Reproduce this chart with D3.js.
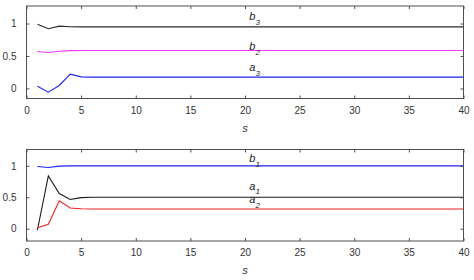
<!DOCTYPE html>
<html><head><meta charset="utf-8">
<script src="https://cdn.jsdelivr.net/npm/d3@7"></script>
<style>body{margin:0;background:#fff}svg{display:block}</style>
</head><body>
<script>
const s = d3.range(1, 41);
// top panel
const b3 = [0.99,0.92,0.96,0.95,0.948,0.948,0.948,0.948,0.948,0.948,0.948,0.948,0.948,0.948,0.948,0.948,0.948,0.948,0.948,0.948,0.948,0.948,0.948,0.948,0.948,0.948,0.948,0.948,0.948,0.948,0.948,0.948,0.948,0.948,0.948,0.948,0.948,0.948,0.948,0.948];
const b2 = [0.569,0.554,0.574,0.582,0.585,0.585,0.585,0.585,0.585,0.585,0.585,0.585,0.585,0.585,0.585,0.585,0.585,0.585,0.585,0.585,0.585,0.585,0.585,0.585,0.585,0.585,0.585,0.585,0.585,0.585,0.585,0.585,0.585,0.585,0.585,0.585,0.585,0.585,0.585,0.585];
const a3 = [0.035,-0.057,0.046,0.22,0.178,0.175,0.175,0.175,0.175,0.175,0.175,0.175,0.175,0.175,0.175,0.175,0.175,0.175,0.175,0.175,0.175,0.175,0.175,0.175,0.175,0.175,0.175,0.175,0.175,0.175,0.175,0.175,0.175,0.175,0.175,0.175,0.175,0.175,0.175,0.175];
// bottom panel
const b1 = [0.99,0.975,0.995,1.0,1.0,1.0,1.0,1.0,1.0,1.0,1.0,1.0,1.0,1.0,1.0,1.0,1.0,1.0,1.0,1.0,1.0,1.0,1.0,1.0,1.0,1.0,1.0,1.0,1.0,1.0,1.0,1.0,1.0,1.0,1.0,1.0,1.0,1.0,1.0,1.0];
const a1 = [-0.02,0.84,0.56,0.466,0.495,0.5,0.5,0.5,0.5,0.5,0.5,0.5,0.5,0.5,0.5,0.5,0.5,0.5,0.5,0.5,0.5,0.5,0.5,0.5,0.5,0.5,0.5,0.5,0.5,0.5,0.5,0.5,0.5,0.5,0.5,0.5,0.5,0.5,0.5,0.5];
const a2 = [0.016,0.07,0.445,0.33,0.317,0.315,0.315,0.315,0.315,0.315,0.315,0.315,0.315,0.315,0.315,0.315,0.315,0.315,0.315,0.315,0.315,0.315,0.315,0.315,0.315,0.315,0.315,0.315,0.315,0.315,0.315,0.315,0.315,0.315,0.315,0.315,0.315,0.315,0.315,0.315];

const xTicks = [0,5,10,15,20,25,30,35,40];
const yTicks = [0,0.5,1];
const yTickLabels = ["0","0.5","1"];

const topSeries = [
  {name:"b", sub:"3", values:b3, color:"#2b2b2b", labelY:1.05},
  {name:"b", sub:"2", values:b2, color:"#ff33ff", labelY:0.59},
  {name:"a", sub:"3", values:a3, color:"#2222ee", labelY:0.266}
];
const bottomSeries = [
  {name:"b", sub:"1", values:b1, color:"#2222ee", labelY:1.06},
  {name:"a", sub:"1", values:a1, color:"#1a1a1a", labelY:0.622},
  {name:"a", sub:"2", values:a2, color:"#ee2222", labelY:0.403}
];
const labelX = 20.4;

const W = 474, H = 280;
const svg = d3.select("body").append("svg").attr("width", W).attr("height", H)
  .style("font-family", "'Liberation Sans', Arial, sans-serif");

function panel(top, bottom, yDomain, series) {
  const left = 26.5, right = 463.5;
  const x = d3.scaleLinear().domain([0, 40]).range([left, right]);
  const y = d3.scaleLinear().domain(yDomain).range([bottom, top]);
  const g = svg.append("g");
  const axisColor = "#505050";
  const line = d3.line().x((d, i) => x(s[i])).y(d => y(d));
  series.forEach(se => {
    g.append("path").attr("d", line(se.values)).attr("fill", "none")
      .attr("stroke", se.color).attr("stroke-width", 1.1);
  });
  g.append("rect").attr("x", left).attr("y", top).attr("width", right - left).attr("height", bottom - top)
    .attr("fill", "none").attr("stroke", axisColor).attr("stroke-width", 1);
  const xb = d3.axisBottom(x).tickValues(xTicks).tickSize(-3).tickPadding(8).tickFormat(d3.format("d"));
  const gx = g.append("g").attr("transform", `translate(0,${bottom})`).call(xb);
  const xt = d3.axisTop(x).tickValues(xTicks).tickSize(-3).tickFormat("");
  const gxt = g.append("g").attr("transform", `translate(0,${top})`).call(xt);
  const yl = d3.axisLeft(y).tickValues(yTicks).tickSize(-3).tickPadding(10).tickFormat((d, i) => yTickLabels[i]);
  const gy = g.append("g").attr("transform", `translate(${left},0)`).call(yl);
  const yr = d3.axisRight(y).tickValues(yTicks).tickSize(-3).tickFormat("");
  const gyr = g.append("g").attr("transform", `translate(${right},0)`).call(yr);
  [gx, gxt, gy, gyr].forEach(a => {
    a.select(".domain").remove();
    a.selectAll(".tick line").attr("stroke", axisColor);
    a.selectAll("text").attr("fill", "#333").style("font-size", "10px").style("font-family", "'Liberation Sans', Arial, sans-serif");
  });
  g.append("text").attr("x", x(20)).attr("y", bottom + 33).attr("text-anchor", "middle")
    .attr("font-style", "italic").attr("font-size", 11).attr("fill", "#333").text("s");
  series.forEach(se => {
    const t = g.append("text").attr("x", x(labelX)).attr("y", y(se.labelY))
      .attr("font-style", "italic").attr("font-size", 11).attr("fill", "#222");
    t.append("tspan").text(se.name);
    t.append("tspan").attr("dy", 4.5).attr("font-size", 8).text(se.sub);
  });
}

panel(6, 98.5, [-0.155, 1.27], topSeries);
panel(149.5, 241, [-0.195, 1.26], bottomSeries);
</script>
</body></html>
